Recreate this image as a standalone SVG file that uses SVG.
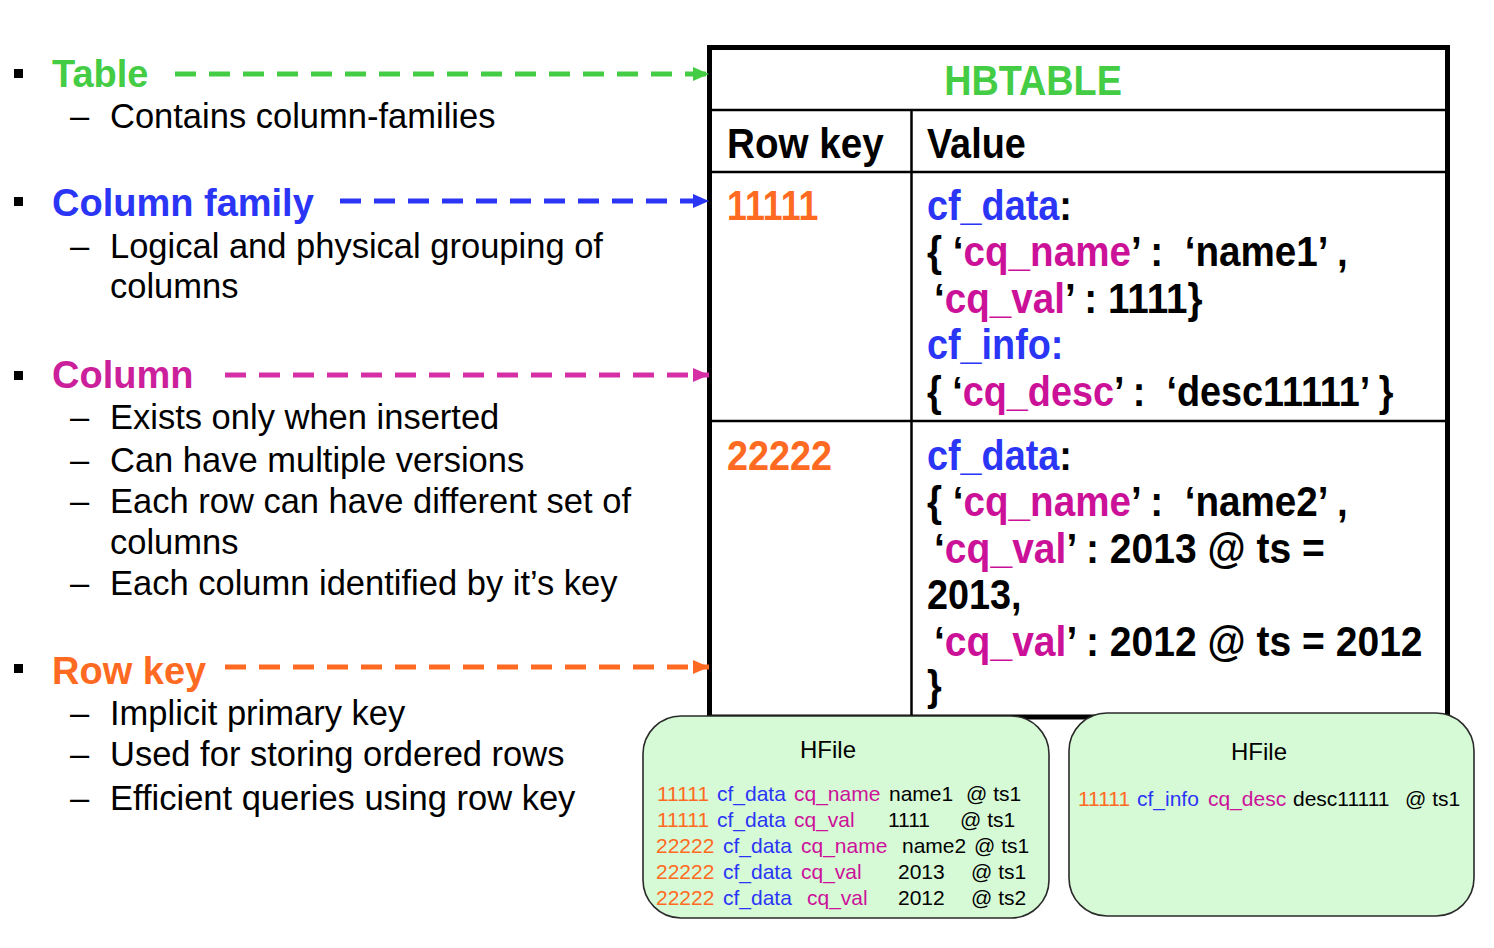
<svg xmlns="http://www.w3.org/2000/svg" width="1494" height="948" viewBox="0 0 1494 948">
<style>
.bg{fill:#ffffff}
.head{font-family:"Liberation Sans",Arial,sans-serif;font-weight:bold;font-size:38px}
.sub{font-family:"Liberation Sans",Arial,sans-serif;font-size:34.5px;fill:#000}
.tb{font-family:"Liberation Sans",Arial,sans-serif;font-weight:bold;font-size:42px;fill:#000}
.hf{font-family:"Liberation Sans",Arial,sans-serif;font-size:21px;fill:#000}
.hft{font-family:"Liberation Sans",Arial,sans-serif;font-size:24px;fill:#000}
.g{fill:#44cc44}
.b{fill:#2b35f5}
.m{fill:#cc1199}
.o{fill:#ff6a22}
.outer{fill:none;stroke:#000;stroke-width:5}
.inner{stroke:#000;stroke-width:2.5}
.box{fill:#d6fad6;stroke:#2a2a2a;stroke-width:1.6}
.dash{fill:none;stroke-width:5;stroke-dasharray:21 13}
</style>
<defs>
<marker id="ag" viewBox="0 0 16 14" refX="16" refY="7" markerWidth="16" markerHeight="14" markerUnits="userSpaceOnUse" orient="auto"><path d="M0,0 L16,7 L0,14 z" fill="#44cc44"/></marker>
<marker id="ab" viewBox="0 0 16 14" refX="16" refY="7" markerWidth="16" markerHeight="14" markerUnits="userSpaceOnUse" orient="auto"><path d="M0,0 L16,7 L0,14 z" fill="#2b35f5"/></marker>
<marker id="am" viewBox="0 0 16 14" refX="16" refY="7" markerWidth="16" markerHeight="14" markerUnits="userSpaceOnUse" orient="auto"><path d="M0,0 L16,7 L0,14 z" fill="#d62fa6"/></marker>
<marker id="ao" viewBox="0 0 16 14" refX="16" refY="7" markerWidth="16" markerHeight="14" markerUnits="userSpaceOnUse" orient="auto"><path d="M0,0 L16,7 L0,14 z" fill="#ff6a22"/></marker>
</defs>
<rect class="bg" x="0" y="0" width="1494" height="948"/>

<g id="label-table">
<rect x="14" y="69" width="9" height="9" fill="#000"/>
<text class="head g" x="52" y="87">Table</text>
<text class="sub" x="70" y="128">–</text>
<text class="sub" x="110" y="128">Contains column-families</text>
</g>

<g id="label-column-family">
<rect x="14" y="197" width="9" height="9" fill="#000"/>
<text class="head b" x="52" y="216">Column family</text>
<text class="sub" x="70" y="258">–</text>
<text class="sub" x="110" y="258">Logical and physical grouping of</text>
<text class="sub" x="110" y="298">columns</text>
</g>

<g id="label-column">
<rect x="14" y="371" width="9" height="9" fill="#000"/>
<text class="head" x="52" y="388" fill="#cc1f9c">Column</text>
<text class="sub" x="70" y="429">–</text>
<text class="sub" x="110" y="429">Exists only when inserted</text>
<text class="sub" x="70" y="472">–</text>
<text class="sub" x="110" y="472">Can have multiple versions</text>
<text class="sub" x="70" y="513">–</text>
<text class="sub" x="110" y="513">Each row can have different set of</text>
<text class="sub" x="110" y="554">columns</text>
<text class="sub" x="70" y="595">–</text>
<text class="sub" x="110" y="595">Each column identified by it’s key</text>
</g>

<g id="label-row-key">
<rect x="14" y="664" width="9" height="9" fill="#000"/>
<text class="head o" x="52" y="684">Row key</text>
<text class="sub" x="70" y="725">–</text>
<text class="sub" x="110" y="725">Implicit primary key</text>
<text class="sub" x="70" y="766">–</text>
<text class="sub" x="110" y="766">Used for storing ordered rows</text>
<text class="sub" x="70" y="810">–</text>
<text class="sub" x="110" y="810">Efficient queries using row key</text>
</g>

<g id="hbtable">
<rect class="outer" x="709.5" y="47.5" width="738" height="669.5" fill="#fff"/>
<line class="inner" x1="709" y1="110" x2="1447" y2="110"/>
<line class="inner" x1="709" y1="172" x2="1447" y2="172"/>
<line class="inner" x1="709" y1="421" x2="1447" y2="421"/>
<line class="inner" x1="911.5" y1="110" x2="911.5" y2="717"/>
<text class="tb g" font-size="41" text-anchor="middle" transform="translate(1033,95) scale(0.9,1)">HBTABLE</text>
<text class="tb" transform="translate(727,158) scale(0.92,1)">Row key</text>
<text class="tb" transform="translate(927,158) scale(0.9,1)">Value</text>
<text class="tb o" transform="translate(727,220) scale(0.85,1)">11111</text>
<text class="tb" xml:space="preserve" transform="translate(927,220) scale(0.9,1)"><tspan class="b">cf_data</tspan>:</text>
<text class="tb" xml:space="preserve" transform="translate(927,266) scale(0.92,1)">{ ‘<tspan class="m">cq_name</tspan>’ :  ‘name1’ ,</text>
<text class="tb" xml:space="preserve" transform="translate(934,313) scale(0.92,1)">‘<tspan class="m">cq_val</tspan>’ : 1111}</text>
<text class="tb b" xml:space="preserve" transform="translate(927,359) scale(0.9,1)">cf_info:</text>
<text class="tb" xml:space="preserve" transform="translate(927,406) scale(0.9,1)">{ ‘<tspan class="m">cq_desc</tspan>’ :  ‘desc11111’ }</text>
<text class="tb o" transform="translate(727,470) scale(0.9,1)">22222</text>
<text class="tb" xml:space="preserve" transform="translate(927,470) scale(0.9,1)"><tspan class="b">cf_data</tspan>:</text>
<text class="tb" xml:space="preserve" transform="translate(927,516) scale(0.92,1)">{ ‘<tspan class="m">cq_name</tspan>’ :  ‘name2’ ,</text>
<text class="tb" xml:space="preserve" transform="translate(934,563) scale(0.93,1)">‘<tspan class="m">cq_val</tspan>’ : 2013 @ ts =</text>
<text class="tb" xml:space="preserve" transform="translate(927,609) scale(0.9,1)">2013,</text>
<text class="tb" xml:space="preserve" transform="translate(934,656) scale(0.93,1)">‘<tspan class="m">cq_val</tspan>’ : 2012 @ ts = 2012</text>
<text class="tb" xml:space="preserve" transform="translate(927,700) scale(0.9,1)">}</text>
</g>

<g id="hfile-1">
<rect class="box" x="643" y="716" width="406" height="202" rx="38" ry="38"/>
<text class="hft" x="828" y="758" text-anchor="middle">HFile</text>
<text class="hf o" x="657" y="801">11111</text><text class="hf b" x="717" y="801">cf_data</text><text class="hf m" x="794" y="801">cq_name</text><text class="hf" x="889" y="801">name1</text><text class="hf" x="966" y="801">@ ts1</text>
<text class="hf o" x="657" y="827">11111</text><text class="hf b" x="717" y="827">cf_data</text><text class="hf m" x="794" y="827">cq_val</text><text class="hf" x="888" y="827">1111</text><text class="hf" x="960" y="827">@ ts1</text>
<text class="hf o" x="656" y="853">22222</text><text class="hf b" x="723" y="853">cf_data</text><text class="hf m" x="801" y="853">cq_name</text><text class="hf" x="902" y="853">name2</text><text class="hf" x="974" y="853">@ ts1</text>
<text class="hf o" x="656" y="879">22222</text><text class="hf b" x="723" y="879">cf_data</text><text class="hf m" x="801" y="879">cq_val</text><text class="hf" x="898" y="879">2013</text><text class="hf" x="971" y="879">@ ts1</text>
<text class="hf o" x="656" y="905">22222</text><text class="hf b" x="723" y="905">cf_data</text><text class="hf m" x="807" y="905">cq_val</text><text class="hf" x="898" y="905">2012</text><text class="hf" x="971" y="905">@ ts2</text>
</g>

<g id="hfile-2">
<rect class="box" x="1069" y="713" width="405" height="203" rx="38" ry="38"/>
<text class="hft" x="1259" y="760" text-anchor="middle">HFile</text>
<text class="hf o" x="1078" y="806">11111</text><text class="hf b" x="1137" y="806">cf_info</text><text class="hf m" x="1208" y="806">cq_desc</text><text class="hf" x="1293" y="806">desc11111</text><text class="hf" x="1405" y="806">@ ts1</text>
</g>

<g id="connectors">
<line class="dash" x1="175" y1="74" x2="709" y2="74" stroke="#44cc44" marker-end="url(#ag)"/>
<line class="dash" x1="340" y1="201" x2="709" y2="201" stroke="#2b35f5" marker-end="url(#ab)"/>
<line class="dash" x1="225" y1="375" x2="709" y2="375" stroke="#d62fa6" marker-end="url(#am)"/>
<line class="dash" x1="225" y1="667" x2="709" y2="667" stroke="#ff6a22" marker-end="url(#ao)"/>
</g>
</svg>
